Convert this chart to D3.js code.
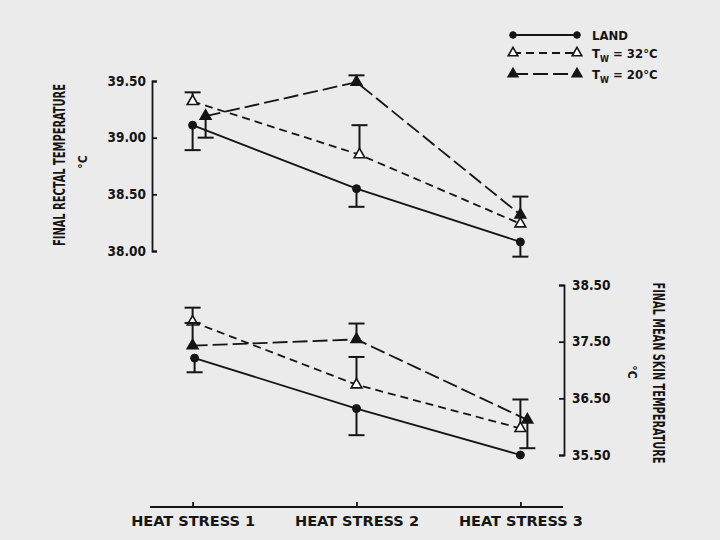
<!DOCTYPE html>
<html>
<head>
<meta charset="utf-8">
<script src="https://cdn.jsdelivr.net/npm/d3@7"></script>
<style>
  body { margin: 0; background: #ebebeb; }
  svg { display: block; }
  text { font-family: "DejaVu Sans Condensed", "Liberation Sans Narrow", sans-serif; font-weight: bold; fill: #151515; }
</style>
</head>
<body>
<svg width="720" height="540"></svg>
<script>
// categories
const stages = ["HEAT STRESS 1", "HEAT STRESS 2", "HEAT STRESS 3"];

// final rectal temperature (top panel), deg C
const rectalLand = [39.11, 38.55, 38.08];
const rectalW32 = [39.32, 38.85, 38.24];
const rectalW20 = [39.19, 39.49, 38.32];
// error bars: + drawn upward, - drawn downward, 0 none
const rectalLandErr = [-0.22, -0.16, -0.13];
const rectalW32Err = [0.08, 0.26, 0];
const rectalW20Err = [-0.19, 0.06, 0.16];

// final mean skin temperature (bottom panel), deg C
const skinLand = [37.21, 36.32, 35.5];
const skinW32 = [37.85, 36.74, 35.97];
const skinW20 = [37.43, 37.54, 36.12];
const skinLandErr = [-0.25, -0.47, 0];
const skinW32Err = [0.25, 0.49, 0.51];
const skinW20Err = [0.4, 0.28, -0.5];

// axis ticks
const rectalTicks = [38.0, 38.5, 39.0, 39.5];
const skinTicks = [35.5, 36.5, 37.5, 38.5];

const svg = d3.select("svg");
const ink = "#151515";

const x = d3.scalePoint().domain(stages).range([150, 563]).padding(0.26);
const yTop = d3.scaleLinear().domain([38.0, 39.5]).range([251, 81]);
const yBot = d3.scaleLinear().domain([35.5, 38.5]).range([455, 285]);

// series styles
const styles = {
  land: { dash: null, marker: "circle", fill: ink },
  w32: { dash: "8,5", marker: "triangle", fill: "#fff" },
  w20: { dash: "15,5", marker: "triangle", fill: ink }
};

// little sideways shifts so overlapping markers stay visible
const nudge = {
  rectal: { land: [0, 0, 0], w32: [0, 3, 0], w20: [13, 0, 0] },
  skin: { land: [2, 0, 0], w32: [0, 0, 0], w20: [0, 0, 7] }
};

const panels = [
  { key: "rectal", y: yTop, series: [
    { id: "land", v: rectalLand, e: rectalLandErr },
    { id: "w32", v: rectalW32, e: rectalW32Err },
    { id: "w20", v: rectalW20, e: rectalW20Err }
  ]},
  { key: "skin", y: yBot, series: [
    { id: "land", v: skinLand, e: skinLandErr },
    { id: "w32", v: skinW32, e: skinW32Err },
    { id: "w20", v: skinW20, e: skinW20Err }
  ]}
];

function drawMarker(g, type, fill, cx, cy, big) {
  if (type === "circle") {
    g.append("circle").attr("cx", cx).attr("cy", cy).attr("r", big ? 4 : 3.3)
      .attr("fill", ink).attr("stroke", ink).attr("stroke-width", 1);
  } else {
    g.append("path")
      .attr("d", d3.symbol().type(d3.symbolTriangle).size(big ? 50 : 40)())
      .attr("transform", `translate(${cx},${cy})`)
      .attr("fill", fill).attr("stroke", ink).attr("stroke-width", 1.6);
  }
}

// data
panels.forEach(p => {
  const g = svg.append("g");
  p.series.forEach(s => {
    const st = styles[s.id];
    const off = nudge[p.key][s.id];
    const pts = stages.map((c, i) => [x(c) + off[i], p.y(s.v[i])]);

    g.append("path")
      .attr("d", d3.line()(pts))
      .attr("fill", "none").attr("stroke", ink).attr("stroke-width", 1.8)
      .attr("stroke-dasharray", st.dash);

    // error bars
    stages.forEach((c, i) => {
      if (!s.e[i]) return;
      const cx = pts[i][0];
      const y0 = pts[i][1];
      const y1 = p.y(s.v[i] + s.e[i]);
      g.append("line").attr("x1", cx).attr("x2", cx).attr("y1", y0).attr("y2", y1)
        .attr("stroke", ink).attr("stroke-width", 2);
      g.append("line").attr("x1", cx - 8).attr("x2", cx + 8).attr("y1", y1).attr("y2", y1)
        .attr("stroke", ink).attr("stroke-width", 2);
    });

    pts.forEach(pt => drawMarker(g, st.marker, st.fill, pt[0], pt[1], true));
  });
});

// axes
const fmt = d3.format(".2f");
const leftAxis = svg.append("g").attr("transform", "translate(152,0)")
  .call(d3.axisRight(yTop).tickValues(rectalTicks).tickFormat(fmt).tickSize(5).tickSizeOuter(5));
leftAxis.selectAll("text").attr("x", -6).attr("text-anchor", "end").style("font-size", "13.5px");

const rightAxis = svg.append("g").attr("transform", "translate(564,0)")
  .call(d3.axisLeft(yBot).tickValues(skinTicks).tickFormat(fmt).tickSize(5).tickSizeOuter(5));
rightAxis.selectAll("text").attr("x", 8).attr("text-anchor", "start").style("font-size", "13.5px");

const bottomAxis = svg.append("g").attr("transform", "translate(0,507)")
  .call(d3.axisTop(x).tickSize(5).tickSizeOuter(0));
bottomAxis.select(".domain").attr("d", "M150,0H563");
bottomAxis.selectAll("text").attr("y", 19).attr("dy", 0).style("font-size", "13.5px")
  .attr("textLength", 124).attr("lengthAdjust", "spacingAndGlyphs");

svg.selectAll(".domain, .tick line").attr("stroke", ink).attr("stroke-width", 1.8);
svg.selectAll(".tick text").attr("font-family", null).attr("font-size", null);

// axis titles
svg.append("text").attr("transform", "translate(65,165) rotate(-90)")
  .attr("text-anchor", "middle").style("font-size", "15px")
  .attr("textLength", 162).attr("lengthAdjust", "spacingAndGlyphs")
  .text("FINAL RECTAL TEMPERATURE");
svg.append("text").attr("transform", "translate(87,162) rotate(-90)")
  .attr("text-anchor", "middle").style("font-size", "12px").text("°C");

svg.append("text").attr("transform", "translate(653,373) rotate(90)")
  .attr("text-anchor", "middle").style("font-size", "15px")
  .attr("textLength", 181).attr("lengthAdjust", "spacingAndGlyphs")
  .text("FINAL MEAN SKIN TEMPERATURE");
svg.append("text").attr("transform", "translate(628,372) rotate(90)")
  .attr("text-anchor", "middle").style("font-size", "12px").text("°C");

// legend
const legend = svg.append("g");
const legendRows = [
  { id: "land", y: 35, label: ["LAND"] },
  { id: "w32", y: 53, label: ["T", "W", " = 32°C"] },
  { id: "w20", y: 74, label: ["T", "W", " = 20°C"] }
];
legendRows.forEach(r => {
  const st = styles[r.id];
  legend.append("line").attr("x1", 513).attr("x2", 577).attr("y1", r.y).attr("y2", r.y)
    .attr("stroke", ink).attr("stroke-width", 1.8).attr("stroke-dasharray", st.dash);
  drawMarker(legend, st.marker, st.fill, 513, r.y, false);
  drawMarker(legend, st.marker, st.fill, 577, r.y, false);
  const t = legend.append("text").attr("x", 592).attr("y", r.y + 5).style("font-size", "13px");
  if (r.label.length === 1) {
    t.text(r.label[0]);
  } else {
    t.append("tspan").text(r.label[0]);
    t.append("tspan").attr("dy", 4).style("font-size", "9px").text(r.label[1]);
    t.append("tspan").attr("dy", -4).text(r.label[2]);
  }
});
</script>
</body>
</html>
